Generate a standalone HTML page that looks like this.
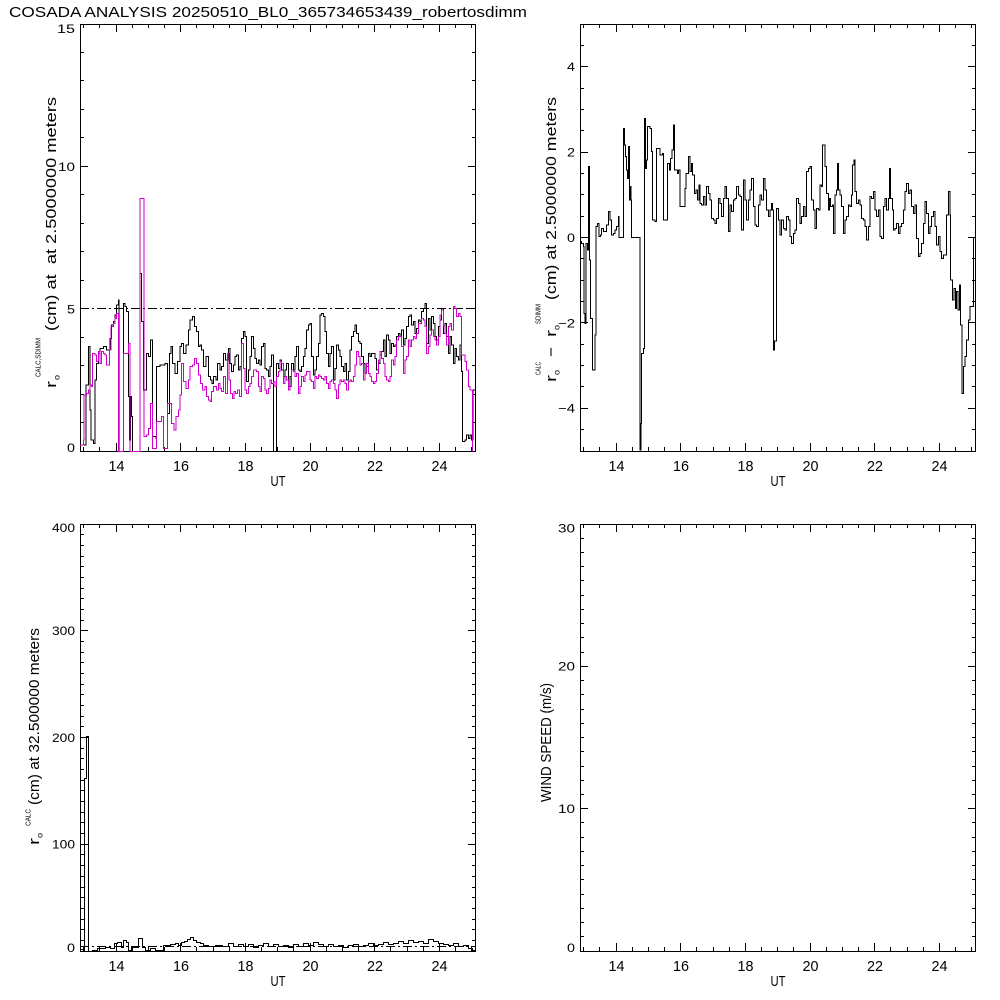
<!DOCTYPE html>
<html>
<head>
<meta charset="utf-8">
<style>
html,body{margin:0;padding:0;background:#fff;}
svg{display:block;}
text{font-family:"Liberation Sans",Arial,sans-serif;fill:#000;white-space:pre;}
</style>
</head>
<body>
<svg width="1000" height="1000" viewBox="0 0 1000 1000" xmlns="http://www.w3.org/2000/svg">
<rect x="0" y="0" width="1000" height="1000" fill="#fff"/>
<defs>
<path id="xt" d="M83.5 451v-4M99.5 451v-4M132.5 451v-4M148.5 451v-4M164.5 451v-4M196.5 451v-4M213.5 451v-4M229.5 451v-4M261.5 451v-4M277.5 451v-4M293.5 451v-4M326.5 451v-4M342.5 451v-4M358.5 451v-4M390.5 451v-4M407.5 451v-4M423.5 451v-4M455.5 451v-4M471.5 451v-4M116.5 451v-8M180.5 451v-8M245.5 451v-8M310.5 451v-8M374.5 451v-8M439.5 451v-8"/>
<path id="yt1" d="M80 422.5h4M80 394.5h4M80 365.5h4M80 337.5h4M80 280.5h4M80 251.5h4M80 223.5h4M80 194.5h4M80 137.5h4M80 109.5h4M80 80.5h4M80 52.5h4M80 308.5h8M80 166.5h8"/>
<path id="yt2" d="M580 45.5h4M580 88.5h4M580 109.5h4M580 130.5h4M580 173.5h4M580 194.5h4M580 216.5h4M580 258.5h4M580 280.5h4M580 301.5h4M580 344.5h4M580 365.5h4M580 386.5h4M580 429.5h4M580 66.5h8M580 152.5h8M580 237.5h8M580 322.5h8M580 408.5h8"/>
<path id="yt3" d="M80 940.5h4M80 929.5h4M80 919.5h4M80 908.5h4M80 897.5h4M80 887.5h4M80 876.5h4M80 865.5h4M80 854.5h4M80 833.5h4M80 822.5h4M80 812.5h4M80 801.5h4M80 790.5h4M80 780.5h4M80 769.5h4M80 758.5h4M80 748.5h4M80 726.5h4M80 716.5h4M80 705.5h4M80 694.5h4M80 684.5h4M80 673.5h4M80 662.5h4M80 652.5h4M80 641.5h4M80 620.5h4M80 609.5h4M80 598.5h4M80 588.5h4M80 577.5h4M80 566.5h4M80 556.5h4M80 545.5h4M80 534.5h4M80 844.5h8M80 737.5h8M80 630.5h8"/>
<path id="yt4" d="M580 936.5h4M580 922.5h4M580 908.5h4M580 894.5h4M580 879.5h4M580 865.5h4M580 851.5h4M580 837.5h4M580 822.5h4M580 794.5h4M580 780.5h4M580 766.5h4M580 751.5h4M580 737.5h4M580 723.5h4M580 709.5h4M580 694.5h4M580 680.5h4M580 652.5h4M580 637.5h4M580 623.5h4M580 609.5h4M580 595.5h4M580 580.5h4M580 566.5h4M580 552.5h4M580 538.5h4M580 808.5h8M580 666.5h8"/>
</defs>

<g stroke="#000" stroke-width="1" fill="none" shape-rendering="crispEdges">
<rect x="80.5" y="24.5" width="395" height="427"/>
<rect x="580.5" y="24.5" width="395" height="427"/>
<rect x="80.5" y="524.5" width="395" height="427"/>
<rect x="580.5" y="524.5" width="395" height="427"/>

<use href="#xt"/>
<use href="#xt" transform="translate(0,475) scale(1,-1)"/>
<use href="#xt" transform="translate(500,0)"/>
<use href="#xt" transform="translate(500,475) scale(1,-1)"/>
<use href="#xt" transform="translate(0,500)"/>
<use href="#xt" transform="translate(0,975) scale(1,-1)"/>
<use href="#xt" transform="translate(500,500)"/>
<use href="#xt" transform="translate(500,975) scale(1,-1)"/>

<use href="#yt1"/>
<use href="#yt1" transform="translate(556,0) scale(-1,1)"/>
<use href="#yt2"/>
<use href="#yt2" transform="translate(1556,0) scale(-1,1)"/>
<use href="#yt3"/>
<use href="#yt3" transform="translate(556,0) scale(-1,1)"/>
<use href="#yt4"/>
<use href="#yt4" transform="translate(1556,0) scale(-1,1)"/>

<path d="M80 308.5H476" stroke-dasharray="9 3 2 3"/>
<path d="M80 946.5H476" stroke-dasharray="9 3 2 3"/>
</g>

<!-- Panel 1 data -->
<g transform="translate(80,190) scale(0.333333)" fill="none" shape-rendering="crispEdges">
<path vector-effect="non-scaling-stroke" stroke="#000" stroke-width="1" d="M0,765 H18 V585 H25 V470 H30 V660 H33 V750 H40 V760 H45 V570 H50 V520 H55 V490 H60 V475 H70 V470 H80 V480 H90 V445 H95 V405 H100 V395 H105 V375 H110 V345 H115 V330 H117 V785 H130 V340 H135 V350 H140 V365 H145 V620 H148 V750 H152 V620 H155 V680 H158 V785 H180 V250 H185 V395 H190 V600 H200 V490 H205 V500 H212 V450 H218 V740 H228 V745 H230 V530 H240 V525 H255 V520 H262 V670 H268 V490 H273 V470 H278 V520 H285 V550 H292 V515 H300 V470 H305 V460 H310 V490 H318 V465 H325 V420 H330 V390 H338 V380 H343 V410 H350 V425 H355 V470 H360 V465 H365 V480 H370 V530 H378 V500 H385 V560 H392 V570 H396 V580 H400 V560 H408 V570 H412 V520 H420 V540 H425 V530 H430 V490 H437 V510 H445 V475 H450 V520 H455 V545 H460 V525 H465 V500 H470 V495 H475 V540 H480 V530 H485 V445 H490 V425 H495 V440 H500 V575 H505 V540 H510 V500 H515 V440 H520 V475 H525 V505 H530 V520 H535 V510 H540 V525 H545 V470 H550 V460 H555 V535 H560 V540 H565 V560 H570 V530 H575 V495 H580 V785 H590 V520 H595 V535 H600 V510 H605 V540 H610 V560 H615 V540 H620 V520 H625 V590 H630 V560 H635 V520 H640 V540 H645 V500 H650 V470 H655 V540 H660 V545 H665 V530 H670 V500 H675 V475 H680 V420 H685 V405 H690 V400 H695 V500 H700 V555 H705 V540 H710 V500 H715 V460 H720 V375 H725 V370 H730 V380 H735 V425 H740 V490 H745 V530 H750 V490 H755 V470 H760 V570 H765 V535 H770 V465 H775 V480 H780 V500 H785 V530 H790 V545 H795 V520 H800 V570 H805 V545 H810 V480 H815 V440 H820 V425 H825 V405 H830 V430 H835 V455 H840 V460 H845 V500 H850 V520 H855 V550 H860 V530 H865 V490 H870 V500 H875 V490 H885 V505 H890 V540 H895 V520 H900 V495 H905 V485 H910 V450 H915 V500 H920 V435 H925 V450 H930 V490 H935 V460 H940 V470 H945 V465 H950 V440 H955 V430 H960 V440 H965 V420 H970 V465 H975 V445 H980 V410 H985 V380 H990 V375 H995 V405 H1000 V395 H1005 V430 H1010 V415 H1015 V390 H1020 V395 H1025 V365 H1030 V355 H1035 V340 H1040 V460 H1045 V385 H1050 V420 H1055 V380 H1060 V400 H1065 V440 H1070 V450 H1075 V410 H1080 V390 H1085 V355 H1090 V430 H1095 V400 H1100 V440 H1105 V490 H1110 V440 H1115 V465 H1120 V520 H1125 V475 H1130 V500 H1135 V510 H1140 V465 H1145 V545 H1148 V755 H1155 V750 H1160 V735 H1165 V745 H1170 V735 H1175 V750 H1179 V600 H1188"/>
<path vector-effect="non-scaling-stroke" stroke="#d000c8" stroke-width="1" d="M0,765 H10 V750 H12 V615 H20 V610 H25 V600 H30 V585 H35 V590 H38 V490 H45 V495 H50 V515 H55 V485 H60 V520 H65 V485 H70 V490 H75 V495 H80 V525 H88 V480 H93 V410 H100 V400 H105 V385 H110 V370 H115 V785 H130 V490 H145 V460 H150 V785 H180 V25 H192 V740 H200 V735 H205 V715 H212 V640 H218 V775 H230 V695 H245 V680 H250 V775 H262 V640 H270 V640 H275 V700 H282 V720 H288 V680 H295 V660 H300 V615 H305 V520 H310 V575 H318 V595 H325 V570 H330 V530 H338 V525 H343 V505 H350 V520 H355 V555 H362 V580 H368 V600 H375 V590 H380 V620 H385 V630 H390 V635 H395 V605 H400 V590 H410 V600 H415 V580 H420 V595 H425 V605 H430 V560 H437 V610 H442 V490 H447 V570 H452 V610 H457 V625 H462 V605 H467 V610 H472 V600 H478 V620 H485 V460 H490 V535 H495 V600 H500 V610 H505 V590 H510 V580 H515 V560 H520 V540 H530 V545 H535 V590 H540 V605 H545 V560 H550 V565 H555 V600 H560 V610 H565 V595 H570 V570 H575 V580 H580 V575 H585 V590 H590 V560 H595 V545 H600 V515 H605 V520 H610 V580 H615 V560 H620 V570 H625 V600 H630 V590 H635 V540 H640 V545 H645 V560 H650 V550 H655 V610 H660 V590 H665 V560 H670 V575 H675 V555 H680 V545 H690 V570 H695 V575 H700 V595 H705 V560 H710 V565 H715 V555 H720 V560 H725 V565 H730 V570 H735 V560 H740 V580 H745 V595 H750 V575 H755 V570 H760 V580 H765 V600 H770 V625 H775 V585 H780 V570 H785 V575 H790 V570 H795 V580 H800 V600 H805 V575 H810 V570 H815 V575 H820 V560 H825 V525 H830 V485 H835 V500 H840 V525 H845 V520 H850 V570 H855 V550 H860 V520 H865 V550 H870 V560 H875 V575 H880 V580 H885 V575 H890 V550 H895 V510 H900 V485 H905 V505 H910 V520 H915 V560 H920 V570 H925 V575 H930 V560 H935 V510 H940 V525 H945 V500 H950 V450 H955 V440 H965 V470 H970 V550 H975 V510 H980 V500 H985 V450 H990 V470 H995 V450 H1000 V440 H1005 V445 H1010 V430 H1015 V400 H1025 V385 H1030 V390 H1035 V410 H1040 V490 H1045 V470 H1050 V435 H1055 V420 H1060 V440 H1065 V450 H1070 V465 H1075 V440 H1080 V375 H1085 V360 H1090 V410 H1095 V430 H1100 V465 H1105 V410 H1110 V400 H1115 V420 H1120 V350 H1125 V355 H1130 V380 H1135 V370 H1140 V380 H1145 V495 H1155 V515 H1160 V540 H1165 V590 H1170 V600 H1178 V785"/>
</g>

<!-- Panel 2 data -->
<g transform="translate(580,110) scale(0.333333)" fill="none" shape-rendering="crispEdges">
<path vector-effect="non-scaling-stroke" stroke="#000" stroke-width="1" d="M0,395 H5 V400 H10 V410 H12 V610 H15 V640 H18 V400 H22 V420 H25 V170 H28 V450 H32 V625 H37 V780 H42 V780 H45 V675 H48 V350 H52 V340 H57 V380 H62 V375 H65 V355 H70 V365 H75 V365 H80 V345 H85 V305 H90 V330 H95 V375 H100 V370 H105 V360 H110 V350 H115 V320 H117 V382 H130 V55 H133 V105 H136 V140 H140 V180 H142 V205 H145 V110 H148 V270 H150 V230 H153 V270 H155 V382 H180 V1020 H183 V940 H184 V730 H190 V715 H193 V25 H196 V175 H200 V150 H203 V50 H210 V55 H215 V125 H218 V330 H225 V335 H230 V115 H240 V135 H248 V130 H250 V330 H260 V330 H263 V160 H268 V180 H272 V145 H276 V120 H280 V45 H283 V180 H288 V180 H292 V190 H296 V180 H300 V290 H310 V290 H315 V235 H318 V190 H322 V190 H326 V140 H330 V185 H335 V160 H338 V195 H343 V250 H348 V240 H352 V270 H357 V225 H360 V280 H365 V285 H370 V260 H375 V285 H380 V230 H385 V250 H390 V270 H395 V325 H400 V330 H405 V340 H410 V325 H415 V265 H420 V280 H425 V320 H430 V265 H435 V230 H440 V265 H445 V365 H450 V285 H455 V305 H460 V270 H465 V265 H470 V230 H475 V255 H480 V260 H485 V360 H490 V210 H495 V270 H500 V330 H505 V270 H510 V240 H515 V205 H520 V290 H525 V345 H530 V350 H535 V285 H540 V255 H545 V270 H550 V205 H555 V240 H560 V300 H565 V320 H570 V300 H575 V280 H578 V300 H580 V720 H583 V693 H588 V693 H590 V295 H595 V330 H600 V375 H605 V330 H610 V355 H615 V360 H620 V320 H625 V330 H630 V380 H635 V400 H640 V370 H645 V360 H650 V265 H655 V280 H660 V340 H665 V320 H670 V290 H675 V320 H680 V185 H685 V175 H690 V170 H695 V270 H700 V300 H705 V355 H710 V295 H715 V300 H720 V225 H725 V230 H728 V105 H735 V170 H740 V250 H745 V300 H748 V265 H752 V290 H757 V285 H760 V370 H765 V255 H770 V240 H773 V160 H776 V240 H780 V255 H785 V290 H790 V370 H795 V330 H800 V320 H805 V285 H810 V290 H815 V255 H818 V165 H822 V150 H825 V245 H830 V280 H835 V270 H840 V285 H845 V325 H850 V330 H855 V350 H860 V390 H865 V350 H870 V260 H875 V265 H880 V245 H885 V300 H890 V320 H895 V300 H900 V380 H905 V385 H910 V290 H915 V265 H920 V300 H925 V265 H928 V175 H932 V265 H937 V300 H940 V360 H945 V355 H950 V340 H955 V370 H960 V350 H965 V340 H970 V300 H975 V245 H980 V220 H985 V250 H990 V240 H995 V290 H1000 V310 H1005 V285 H1010 V385 H1015 V440 H1020 V430 H1025 V400 H1030 V340 H1035 V275 H1040 V310 H1045 V370 H1050 V350 H1055 V320 H1060 V305 H1065 V350 H1070 V405 H1075 V380 H1080 V425 H1085 V445 H1090 V435 H1095 V435 H1100 V315 H1105 V245 H1110 V315 H1112 V510 H1118 V570 H1122 V535 H1126 V595 H1130 V545 H1134 V600 H1138 V525 H1142 V645 H1146 V850 H1150 V770 H1155 V740 H1160 V690 H1165 V630 H1170 V590 H1180 V382 H1188"/>
</g>

<!-- Panel 3 data -->
<path transform="translate(0.5,0.5)" fill="none" stroke="#000" stroke-width="1" shape-rendering="crispEdges" d="M80,949 H83 V951 H84 V778 H86 V736 H88 V951 H92 V950 H97 V948 H105 V947 H110 V948 H114 V943 H117 V942 H121 V947 H123 V940 H126 V942 H128 V950 H131 V947 H138 V938 H142 V947 H145 V950 H150 V948 H155 V950 H163 V945 H170 V944 H175 V943 H178 V945 H181 V942 H184 V941 H187 V939 H190 V937 H193 V940 H196 V942 H200 V943 H203 V945 H208 V946 H215 V945 H222 V946 H228 V943 H233 V946 H238 V944 H243 V946 H248 V944 H253 V947 H258 V945 H263 V943 H268 V946 H273 V944 H278 V946 H283 V945 H288 V947 H293 V944 H298 V946 H303 V943 H308 V945 H313 V942 H318 V944 H323 V946 H328 V944 H333 V946 H338 V945 H343 V947 H348 V945 H353 V944 H358 V946 H363 V945 H368 V943 H373 V945 H378 V944 H383 V942 H388 V944 H393 V943 H398 V941 H403 V943 H408 V940 H413 V942 H418 V941 H423 V943 H428 V939 H433 V941 H438 V943 H443 V944 H448 V945 H453 V943 H458 V946 H463 V945 H468 V948 H472 V950 H475"/>

<text x="9" y="17" font-size="15" textLength="518" lengthAdjust="spacingAndGlyphs">COSADA ANALYSIS 20250510_BL0_365734653439_robertosdimm</text>

<g font-size="15" text-anchor="middle">
<text x="116.5" y="471" textLength="16" lengthAdjust="spacingAndGlyphs">14</text>
<text x="181" y="471" textLength="16" lengthAdjust="spacingAndGlyphs">16</text>
<text x="245.5" y="471" textLength="16" lengthAdjust="spacingAndGlyphs">18</text>
<text x="310.5" y="471" textLength="16" lengthAdjust="spacingAndGlyphs">20</text>
<text x="375" y="471" textLength="16" lengthAdjust="spacingAndGlyphs">22</text>
<text x="439.5" y="471" textLength="16" lengthAdjust="spacingAndGlyphs">24</text>
<text x="278" y="486" textLength="15" lengthAdjust="spacingAndGlyphs">UT</text>

<text x="616.5" y="471" textLength="16" lengthAdjust="spacingAndGlyphs">14</text>
<text x="681" y="471" textLength="16" lengthAdjust="spacingAndGlyphs">16</text>
<text x="745.5" y="471" textLength="16" lengthAdjust="spacingAndGlyphs">18</text>
<text x="810.5" y="471" textLength="16" lengthAdjust="spacingAndGlyphs">20</text>
<text x="875" y="471" textLength="16" lengthAdjust="spacingAndGlyphs">22</text>
<text x="939.5" y="471" textLength="16" lengthAdjust="spacingAndGlyphs">24</text>
<text x="778" y="486" textLength="15" lengthAdjust="spacingAndGlyphs">UT</text>

<text x="116.5" y="971" textLength="16" lengthAdjust="spacingAndGlyphs">14</text>
<text x="181" y="971" textLength="16" lengthAdjust="spacingAndGlyphs">16</text>
<text x="245.5" y="971" textLength="16" lengthAdjust="spacingAndGlyphs">18</text>
<text x="310.5" y="971" textLength="16" lengthAdjust="spacingAndGlyphs">20</text>
<text x="375" y="971" textLength="16" lengthAdjust="spacingAndGlyphs">22</text>
<text x="439.5" y="971" textLength="16" lengthAdjust="spacingAndGlyphs">24</text>
<text x="278" y="986" textLength="15" lengthAdjust="spacingAndGlyphs">UT</text>

<text x="616.5" y="971" textLength="16" lengthAdjust="spacingAndGlyphs">14</text>
<text x="681" y="971" textLength="16" lengthAdjust="spacingAndGlyphs">16</text>
<text x="745.5" y="971" textLength="16" lengthAdjust="spacingAndGlyphs">18</text>
<text x="810.5" y="971" textLength="16" lengthAdjust="spacingAndGlyphs">20</text>
<text x="875" y="971" textLength="16" lengthAdjust="spacingAndGlyphs">22</text>
<text x="939.5" y="971" textLength="16" lengthAdjust="spacingAndGlyphs">24</text>
<text x="778" y="986" textLength="15" lengthAdjust="spacingAndGlyphs">UT</text>
</g>

<g font-size="12" text-anchor="end">
<text x="75" y="32.8" textLength="18" lengthAdjust="spacingAndGlyphs">15</text>
<text x="75" y="170.8" textLength="17" lengthAdjust="spacingAndGlyphs">10</text>
<text x="75" y="313.3" textLength="8" lengthAdjust="spacingAndGlyphs">5</text>
<text x="75" y="451.8" textLength="8" lengthAdjust="spacingAndGlyphs">0</text>

<text x="575" y="71" textLength="8" lengthAdjust="spacingAndGlyphs">4</text>
<text x="575" y="156.3" textLength="8" lengthAdjust="spacingAndGlyphs">2</text>
<text x="575" y="241.8" textLength="8" lengthAdjust="spacingAndGlyphs">0</text>
<text x="575" y="327.3" textLength="17" lengthAdjust="spacingAndGlyphs">−2</text>
<text x="575" y="412.6" textLength="17" lengthAdjust="spacingAndGlyphs">−4</text>

<text x="75" y="531.8" textLength="23" lengthAdjust="spacingAndGlyphs">400</text>
<text x="75" y="635" textLength="23" lengthAdjust="spacingAndGlyphs">300</text>
<text x="75" y="741.8" textLength="23" lengthAdjust="spacingAndGlyphs">200</text>
<text x="75" y="848.6" textLength="23" lengthAdjust="spacingAndGlyphs">100</text>
<text x="75" y="951.8" textLength="8" lengthAdjust="spacingAndGlyphs">0</text>

<text x="575" y="532.3" textLength="17" lengthAdjust="spacingAndGlyphs">30</text>
<text x="575" y="670.6" textLength="17" lengthAdjust="spacingAndGlyphs">20</text>
<text x="575" y="813" textLength="17" lengthAdjust="spacingAndGlyphs">10</text>
<text x="575" y="951.8" textLength="8" lengthAdjust="spacingAndGlyphs">0</text>
</g>

<text transform="translate(56,388) rotate(-90)" font-size="15" textLength="7" lengthAdjust="spacingAndGlyphs">r</text>
<text transform="translate(59.5,380) rotate(-90)" font-size="8" textLength="5" lengthAdjust="spacingAndGlyphs">o</text>
<text transform="translate(40.5,377) rotate(-90)" font-size="7" textLength="39" lengthAdjust="spacingAndGlyphs">CALC,SDIMM</text>
<text transform="translate(56,331) rotate(-90)" font-size="15" textLength="234" lengthAdjust="spacingAndGlyphs">(cm) at  at 2.5000000 meters</text>

<text transform="translate(556,382) rotate(-90)" font-size="15" textLength="7" lengthAdjust="spacingAndGlyphs">r</text>
<text transform="translate(559.5,375) rotate(-90)" font-size="8" textLength="5" lengthAdjust="spacingAndGlyphs">o</text>
<text transform="translate(540.5,375) rotate(-90)" font-size="7" textLength="13" lengthAdjust="spacingAndGlyphs">CALC</text>
<text transform="translate(556,357) rotate(-90)" font-size="15" textLength="10" lengthAdjust="spacingAndGlyphs">−</text>
<text transform="translate(556,337) rotate(-90)" font-size="15" textLength="7" lengthAdjust="spacingAndGlyphs">r</text>
<text transform="translate(559.5,330) rotate(-90)" font-size="8" textLength="5" lengthAdjust="spacingAndGlyphs">o</text>
<text transform="translate(540.5,324) rotate(-90)" font-size="7" textLength="20" lengthAdjust="spacingAndGlyphs">SDIMM</text>
<text transform="translate(556,300) rotate(-90)" font-size="15" textLength="203" lengthAdjust="spacingAndGlyphs">(cm) at 2.5000000 meters</text>

<text transform="translate(39,845) rotate(-90)" font-size="15" textLength="7" lengthAdjust="spacingAndGlyphs">r</text>
<text transform="translate(42.5,838) rotate(-90)" font-size="8" textLength="5" lengthAdjust="spacingAndGlyphs">o</text>
<text transform="translate(30.3,826) rotate(-90)" font-size="7" textLength="17" lengthAdjust="spacingAndGlyphs">CALC</text>
<text transform="translate(39,805) rotate(-90)" font-size="15" textLength="177" lengthAdjust="spacingAndGlyphs">(cm) at 32.500000 meters</text>

<text transform="translate(551,802) rotate(-90)" font-size="15" textLength="119" lengthAdjust="spacingAndGlyphs">WIND SPEED (m/s)</text>
</svg>
</body>
</html>
